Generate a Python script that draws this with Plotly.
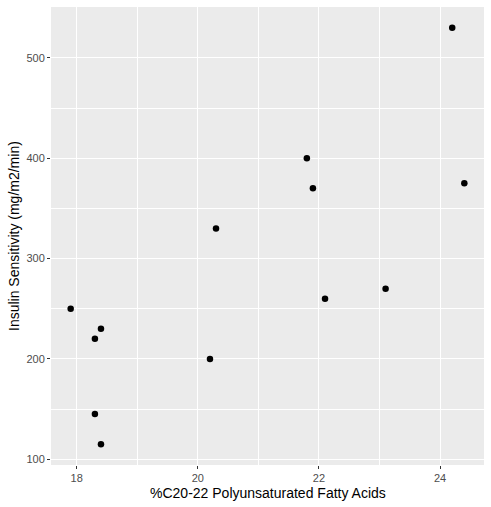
import plotly.graph_objects as go

# Borkman data: fatty acids vs insulin sensitivity
fatty_acids = [17.9, 18.3, 18.3, 18.4, 18.4, 20.2, 20.3, 21.8, 21.9, 22.1, 23.1, 24.2, 24.4]
insulin_sens = [250, 220, 145, 115, 230, 200, 330, 400, 370, 260, 270, 530, 375]

x_ticks = [18, 20, 22, 24]
y_ticks = [100, 200, 300, 400, 500]

fig = go.Figure()

fig.add_trace(go.Scatter(
    x=fatty_acids,
    y=insulin_sens,
    mode='markers',
    marker=dict(color='black', size=6.5, line=dict(width=0)),
    showlegend=False,
))

axis_common = dict(
    automargin=False,
    showgrid=True,
    gridcolor='white',
    gridwidth=1.1,
    zeroline=False,
    showline=False,
    ticks='outside',
    ticklen=3,
    tickwidth=1.1,
    tickcolor='#333333',
    tickfont=dict(family='Liberation Sans, Arial', size=11, color='#4D4D4D'),
    minor=dict(showgrid=True, gridcolor='white', gridwidth=0.5, ticks=''),
)

fig.update_layout(
    width=491,
    height=507,
    margin=dict(l=51, r=7, t=7, b=42),
    paper_bgcolor='white',
    plot_bgcolor='#EBEBEB',
    font=dict(family='Liberation Sans, Arial', color='black'),
    xaxis=dict(
        axis_common,
        range=[17.575, 24.725],
        tickvals=x_ticks,
        minor=dict(axis_common['minor'], dtick=1, tick0=17),
    ),
    yaxis=dict(
        axis_common,
        range=[94.25, 550.75],
        tickvals=y_ticks,
        minor=dict(axis_common['minor'], dtick=50, tick0=50),
    ),
)

# axis titles placed like ggplot
fig.add_annotation(
    text='%C20-22 Polyunsaturated Fatty Acids',
    xref='paper', yref='paper', x=0.5, y=0, yshift=-28,
    xanchor='center', yanchor='middle', showarrow=False,
    font=dict(size=14, color='black'),
)
fig.add_annotation(
    text='Insulin Sensitivity (mg/m2/min)',
    xref='paper', yref='paper', x=0, y=0.5, xshift=-37,
    xanchor='center', yanchor='middle', textangle=-90, showarrow=False,
    font=dict(size=14, color='black'),
)

# drop the default body margin so the figure sits at the window corner
fig.write_html("out.html", config={'displayModeBar': False},
               post_script="document.body.style.margin='0';")
